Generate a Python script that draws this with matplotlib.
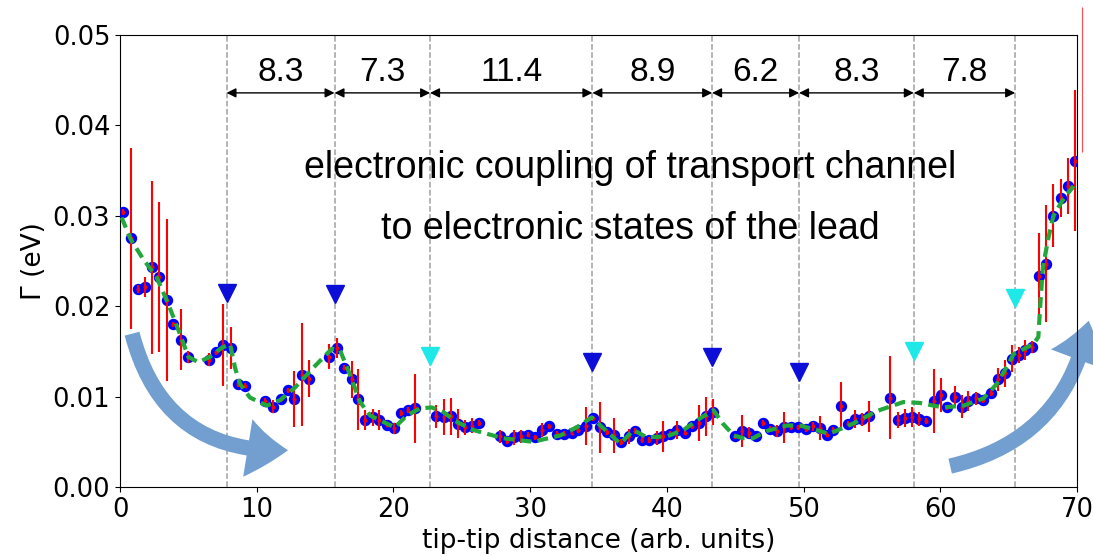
import numpy as np
import matplotlib.pyplot as plt
from matplotlib.patches import FancyArrowPatch, ArrowStyle

# measured coupling values
dist = [0.24, 0.78, 1.34, 1.83, 2.36, 2.88, 3.41, 3.90, 4.44, 4.97,
        6.51, 7.02, 7.56, 8.10, 8.66, 9.14, 10.6, 11.2, 11.75, 12.27,
        12.75, 13.30, 13.83, 15.31, 15.85, 16.41, 16.95, 17.43, 17.92, 18.48,
        18.97, 19.50, 20.04, 20.53, 21.07, 21.58, 23.10, 23.70, 24.20, 24.75,
        25.24, 25.77, 26.28, 27.80, 28.33, 28.85, 29.33, 29.82, 30.36, 30.90,
        31.40, 31.94, 32.48, 33.04, 33.53, 34.07, 34.56, 35.10, 35.65, 36.14,
        36.65, 37.20, 37.67, 38.17, 38.72, 39.26, 39.74, 40.23, 40.77, 41.33,
        41.82, 42.38, 42.87, 43.36, 44.99, 45.48, 46.04, 46.50, 47.00, 47.55,
        48.08, 48.57, 49.08, 49.62, 50.16, 50.67, 51.20, 51.70, 52.18, 52.74,
        53.28, 53.77, 54.30, 54.80, 56.33, 56.90, 57.40, 57.90, 58.45, 58.96,
        59.55, 60.04, 60.52, 61.06, 61.57, 62.06, 62.62, 63.15, 63.69, 64.25,
        64.74, 65.23, 65.72, 66.20, 66.74, 67.25, 67.74, 68.27, 68.84, 69.37,
        69.86]
gamma = [0.0304, 0.0275, 0.0219, 0.0221, 0.0243, 0.0232, 0.0207, 0.0180, 0.0163, 0.0144,
         0.0141, 0.0149, 0.0157, 0.0154, 0.0114, 0.0112, 0.0095, 0.0089, 0.0097, 0.0107,
         0.0097, 0.0124, 0.0120, 0.0144, 0.0154, 0.0132, 0.0119, 0.0097, 0.0074, 0.0077,
         0.0074, 0.0069, 0.0065, 0.0082, 0.0085, 0.0087, 0.0078, 0.0077, 0.0078, 0.0070,
         0.0066, 0.0068, 0.0071, 0.0056, 0.0051, 0.0055, 0.0056, 0.0058, 0.0055, 0.0063,
         0.0067, 0.0059, 0.0059, 0.0060, 0.0063, 0.0068, 0.0076, 0.0066, 0.0061, 0.0057,
         0.0050, 0.0056, 0.0062, 0.0052, 0.0052, 0.0054, 0.0056, 0.0059, 0.0063, 0.0060,
         0.0067, 0.0071, 0.0078, 0.0083, 0.0056, 0.0062, 0.0060, 0.0056, 0.0071, 0.0064,
         0.0062, 0.0066, 0.0066, 0.0066, 0.0064, 0.0067, 0.0065, 0.0058, 0.0063, 0.0090,
         0.0070, 0.0075, 0.0075, 0.0078, 0.0099, 0.0074, 0.0076, 0.0077, 0.0075, 0.0073,
         0.0095, 0.0102, 0.0088, 0.0100, 0.0089, 0.0095, 0.0098, 0.0096, 0.0104, 0.0119,
         0.0126, 0.0142, 0.0146, 0.0152, 0.0155, 0.0233, 0.0247, 0.0300, 0.0320, 0.0333,
         0.0361]
gamma_err = [0.0003, 0.0100, 0.0004, 0.0011, 0.0096, 0.0083, 0.0090, 0.0003, 0.0034, 0.0007,
             0.0007, 0.0003, 0.0045, 0.0023, 0.0003, 0.0003, 0.0003, 0.0007, 0.0003, 0.0003,
             0.0031, 0.0057, 0.0020, 0.0014, 0.0011, 0.0003, 0.0020, 0.0034, 0.0011, 0.0009,
             0.0011, 0.0003, 0.0006, 0.0003, 0.0003, 0.0038, 0.0013, 0.0020, 0.0020, 0.0016,
             0.0008, 0.0008, 0.0003, 0.0007, 0.0003, 0.0008, 0.0007, 0.0003, 0.0003, 0.0008,
             0.0003, 0.0003, 0.0003, 0.0003, 0.0003, 0.0021, 0.0003, 0.0028, 0.0003, 0.0019,
             0.0003, 0.0008, 0.0003, 0.0003, 0.0003, 0.0008, 0.0017, 0.0003, 0.0010, 0.0003,
             0.0003, 0.0020, 0.0022, 0.0014, 0.0003, 0.0018, 0.0006, 0.0003, 0.0003, 0.0003,
             0.0007, 0.0017, 0.0003, 0.0003, 0.0003, 0.0005, 0.0013, 0.0003, 0.0003, 0.0026,
             0.0003, 0.0010, 0.0007, 0.0017, 0.0046, 0.0009, 0.0010, 0.0011, 0.0008, 0.0003,
             0.0035, 0.0019, 0.0003, 0.0012, 0.0013, 0.0011, 0.0007, 0.0003, 0.0003, 0.0013,
             0.0015, 0.0015, 0.0009, 0.0011, 0.0007, 0.0048, 0.0065, 0.0035, 0.0021, 0.0031,
             0.0078]

# last point sits just outside the x range, only its error bar shows
out_dist = [70.35]
out_gamma = [0.0451]
out_err = [0.0080]

# smoothed guide curve
fit_dist = [0.12, 0.78, 1.7, 2.68, 3.54, 4.39, 5.0, 5.73, 6.58, 7.44,
            8.05, 8.41, 8.78, 9.5, 10.73, 11.7, 12.8, 14.14, 15.5, 16.1,
            16.8, 17.56, 18.3, 19.26, 20.1, 20.97, 21.95, 22.8, 23.65, 24.5,
            25.85, 28.0, 30.2, 32.2, 33.4, 34.5, 35.35, 36.6, 37.55, 38.53,
            40.0, 41.2, 42.43, 43.4, 44.1, 44.9, 45.6, 46.3, 47.3, 48.77,
            49.74, 50.96, 51.8, 52.2, 53.6, 55.35, 57.3, 58.5, 60.2, 61.7,
            63.15, 64.13, 64.98, 65.35, 66.8, 67.17, 67.3, 67.5, 67.91, 68.27,
            68.89, 69.74]
fit_gamma = [0.0298, 0.0274, 0.0252, 0.0232, 0.0202, 0.0169, 0.0144, 0.0138, 0.0144, 0.0154,
             0.0158, 0.0132, 0.0114, 0.0099, 0.0090, 0.0096, 0.0110, 0.0132, 0.0153, 0.0151,
             0.0125, 0.0094, 0.0079, 0.0072, 0.0066, 0.0079, 0.0087, 0.0088, 0.0083, 0.0073,
             0.0063, 0.0054, 0.0050, 0.0057, 0.0066, 0.0077, 0.0065, 0.0048, 0.0063, 0.0055,
             0.0056, 0.0063, 0.0076, 0.0085, 0.0070, 0.0057, 0.0054, 0.0054, 0.0062, 0.0068,
             0.0068, 0.0063, 0.0059, 0.0061, 0.0070, 0.0084, 0.0094, 0.0093, 0.0088, 0.0090,
             0.0098, 0.0114, 0.0136, 0.0147, 0.0158, 0.0166, 0.0199, 0.0243, 0.0276, 0.0300,
             0.0316, 0.0333]

# peak positions and spacings
peak_pos = [7.79, 15.69, 22.68, 34.55, 43.31, 49.67, 58.06, 65.47]
peak_mark = [0.0215, 0.0214, 0.0145, 0.0138, 0.0144, 0.0127, 0.0150, 0.0209]
peak_color = ['#0d0dd8', '#0d0dd8', '#1ee8e8', '#0d0dd8', '#0d0dd8', '#0d0dd8', '#1ee8e8', '#1ee8e8']
spacing_labels = ['8.3', '7.3', '11.4', '8.9', '6.2', '8.3', '7.8']

fig = plt.figure(figsize=(10.93, 5.56), dpi=100)
ax = fig.add_axes([0.1098, 0.1241, 0.8756, 0.8129])

for p in peak_pos:
    ax.axvline(p, color='#a0a0a0', ls='--', lw=1.1, zorder=1)

ax.plot(dist, gamma, 'o', ms=5.6, mfc='red', mec='blue', mew=2.6, zorder=3)
ax.errorbar(dist, gamma, yerr=gamma_err, fmt='none', ecolor='red', elinewidth=1.5, zorder=4)
ax.errorbar(out_dist, out_gamma, yerr=out_err, fmt='none', ecolor='red', elinewidth=0.8,
            alpha=0.7, clip_on=False)
ax.plot(fit_dist, fit_gamma, color='#22a83a', lw=3, ls=(0, (2.6, 1.5)), zorder=5)

for p, m, c in zip(peak_pos, peak_mark, peak_color):
    ax.plot(p, m, 'v', color=c, ms=13, zorder=6)

# spacing arrows
for i, lab in enumerate(spacing_labels):
    ax.annotate('', xy=(peak_pos[i], 0.0436), xytext=(peak_pos[i + 1], 0.0436),
                arrowprops=dict(arrowstyle='<|-|>', color='black', lw=1,
                                mutation_scale=14, shrinkA=0, shrinkB=0))
    ax.text((peak_pos[i] + peak_pos[i + 1]) / 2, 0.0459, lab, ha='center', va='center',
            fontsize=24, family='Liberation Sans')

ax.text(37.3, 0.0353, 'electronic coupling of transport channel', ha='center', va='center',
        fontsize=27, family='Liberation Sans')
ax.text(37.3, 0.0285, 'to electronic states of the lead', ha='center', va='center',
        fontsize=27, family='Liberation Sans')

# big curved arrows
style = ArrowStyle.Simple(head_length=29, head_width=42, tail_width=11)
a1 = FancyArrowPatch((0.88, 0.01696), (12.29, 0.00407), arrowstyle=style,
                     connectionstyle='arc3,rad=0.4', color='#729fcf', lw=0,
                     shrinkA=0, shrinkB=0, clip_on=False, zorder=2)
a2 = FancyArrowPatch((60.72, 0.00231), (70.85, 0.0184), arrowstyle=style,
                     connectionstyle='arc3,rad=0.33', color='#729fcf', lw=0,
                     shrinkA=0, shrinkB=0, clip_on=False, zorder=2)
ax.add_patch(a1)
ax.add_patch(a2)

ax.set_xlim(0, 70)
ax.set_ylim(0, 0.05)
ax.set_xticks([0, 10, 20, 30, 40, 50, 60, 70])
ax.set_yticks([0.0, 0.01, 0.02, 0.03, 0.04, 0.05])
ax.tick_params(labelsize=18.5)
ax.set_xlabel('tip-tip distance (arb. units)', fontsize=19, labelpad=4)
ax.set_ylabel('Γ (eV)', fontsize=19)

plt.savefig('out.png', dpi=100)
